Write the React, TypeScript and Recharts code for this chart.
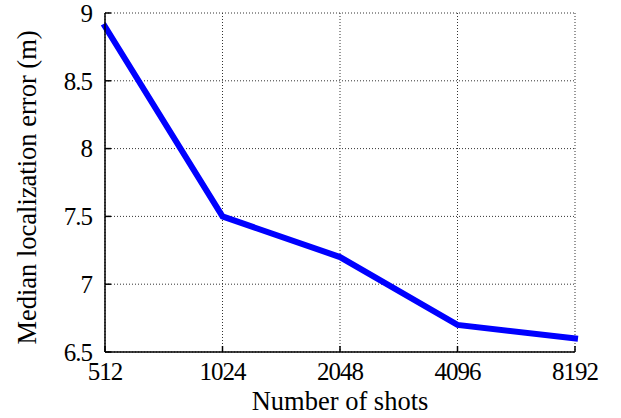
import { LineChart, Line, XAxis, YAxis, CartesianGrid, Label } from 'recharts';

const shots = ['512', '1024', '2048', '4096', '8192'];
const medianError = [8.9, 7.5, 7.2, 6.7, 6.6];
const yTicks = [6.5, 7, 7.5, 8, 8.5, 9];

const data = shots.map((n, i) => ({ n, err: medianError[i] }));

const font = '"Liberation Serif", "Times New Roman", serif';
const tickStyle = { fontFamily: font, fontSize: 25, fill: '#000', letterSpacing: -1 };

export default function App() {
  return (
    <div style={{ position: 'absolute', left: 0, top: 0, background: '#fff' }}>
      <LineChart width={621} height={418} data={data} margin={{ top: 13, right: 46, bottom: 0, left: 0 }}>
        <CartesianGrid stroke="#333" strokeDasharray="1 2" strokeWidth={1} />
        <XAxis
          dataKey="n"
          height={66}
          stroke="#000"
          strokeWidth={1.5}
          tickSize={-6}
          tickMargin={16}
          tick={tickStyle}
          interval={0}
        >
          <Label
            content={(props: any) => {
              const vb = props.viewBox;
              return (
                <text x={vb.x + vb.width / 2} y={vb.y + vb.height - 8} textAnchor="middle" fontFamily={font} fontSize={26.5} fill="#000">
                  Number of shots
                </text>
              );
            }}
          />
        </XAxis>
        <XAxis
          xAxisId="top"
          dataKey="n"
          orientation="top"
          height={0}
          stroke="#000"
          strokeWidth={1.5}
          tickSize={-6}
          tickFormatter={() => ''}
          interval={0}
        />
        <YAxis
          type="number"
          domain={[6.5, 9]}
          ticks={yTicks}
          width={105}
          stroke="#000"
          strokeWidth={1.5}
          tickSize={-6}
          tickMargin={19}
          tick={tickStyle}
          interval={0}
        >
          <Label
            content={(props: any) => {
              const vb = props.viewBox;
              const cx = vb.x + 27;
              const cy = vb.y + vb.height / 2 + 5;
              return (
                <text x={cx} y={cy} textAnchor="middle" dominantBaseline="central" transform={`rotate(-90 ${cx} ${cy})`} fontFamily={font} fontSize={26.5} fill="#000">
                  Median localization error (m)
                </text>
              );
            }}
          />
        </YAxis>
        <YAxis
          yAxisId="right"
          orientation="right"
          type="number"
          domain={[6.5, 9]}
          ticks={yTicks}
          width={0}
          stroke="#000"
          strokeWidth={1.5}
          tickSize={-6}
          tickFormatter={() => ''}
          interval={0}
        />
        <Line
          dataKey="err"
          stroke="#0000ff"
          strokeWidth={6}
          strokeLinecap="square"
          dot={false}
          isAnimationActive={false}
        />
      </LineChart>
    </div>
  );
}
